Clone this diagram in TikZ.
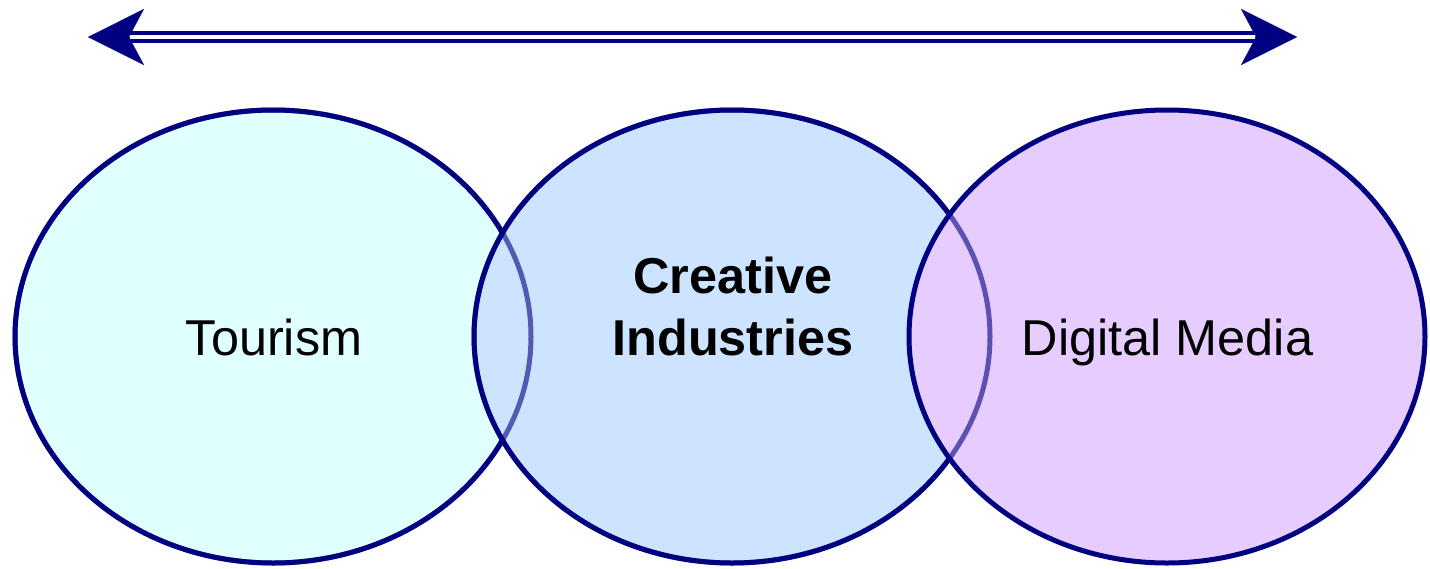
\documentclass[tikz,border=0pt]{standalone}
\usepackage{fontspec}
\setmainfont{Liberation Sans}
\usetikzlibrary{arrows.meta,shapes.geometric}
\definecolor{ringblue}{RGB}{0,0,128}
\definecolor{tourfill}{RGB}{224,255,255}
\definecolor{creafill}{RGB}{204,228,255}
\definecolor{digifill}{RGB}{230,204,255}
\tikzset{every picture/.style={line width=0.75pt}}

\begin{document}
\begin{tikzpicture}[x=0.5pt,y=0.5pt,yscale=-1,xscale=1,
    ring/.style={ellipse, draw=ringblue, line width=2.5pt, minimum width=258pt, minimum height=226.5pt, inner sep=0pt},
    ringback/.style={draw=ringblue, draw opacity=0.6, line width=2.5pt},
    lbl/.style={font=\fontsize{25.2}{31}\selectfont, inner sep=0pt},
    lblbold/.style={font=\fontsize{25.2}{31}\selectfont\bfseries, inner sep=0pt, align=center}]
        \useasboundingbox (0,0) rectangle (1430,568);

        %Double Arrow
        \coordinate (westTip) at (88,37);
        \coordinate (eastTip) at (1297,37);
        \draw [ringblue, line width=0.1pt, {Stealth[length=28pt,width=28pt,inset=7.5pt]}-{Stealth[length=28pt,width=28pt,inset=7.5pt]}] (westTip) -- (eastTip);
        \draw [ringblue, line width=1.75pt, double=white, double distance=2.25pt, shorten <=21pt, shorten >=21pt] (westTip) -- (eastTip);

        %Shape: Ellipse
        \node [ring, fill=tourfill] (tour) at (273,336.5) {};
        %Shape: Ellipse
        \node [ring, fill=creafill] (crea) at (732,336.5) {};
        \draw [ringback] (tour.center) ellipse [x radius=129pt, y radius=113.25pt];
        %Shape: Ellipse
        \node [ring, fill=digifill] (digi) at (1167,336.5) {};
        \draw [ringback] (crea.center) ellipse [x radius=129pt, y radius=113.25pt];

        % Text Node
        \node [lbl, anchor=base] (tourText) at (274,355) {Tourism};
        % Text Node
        \node [lblbold] (creaText) at (733,306) {Creative\\Industries};
        % Text Node
        \node [lbl, anchor=base] (digiText) at (1167.5,355) {Digital Media};

\end{tikzpicture}
\end{document}
